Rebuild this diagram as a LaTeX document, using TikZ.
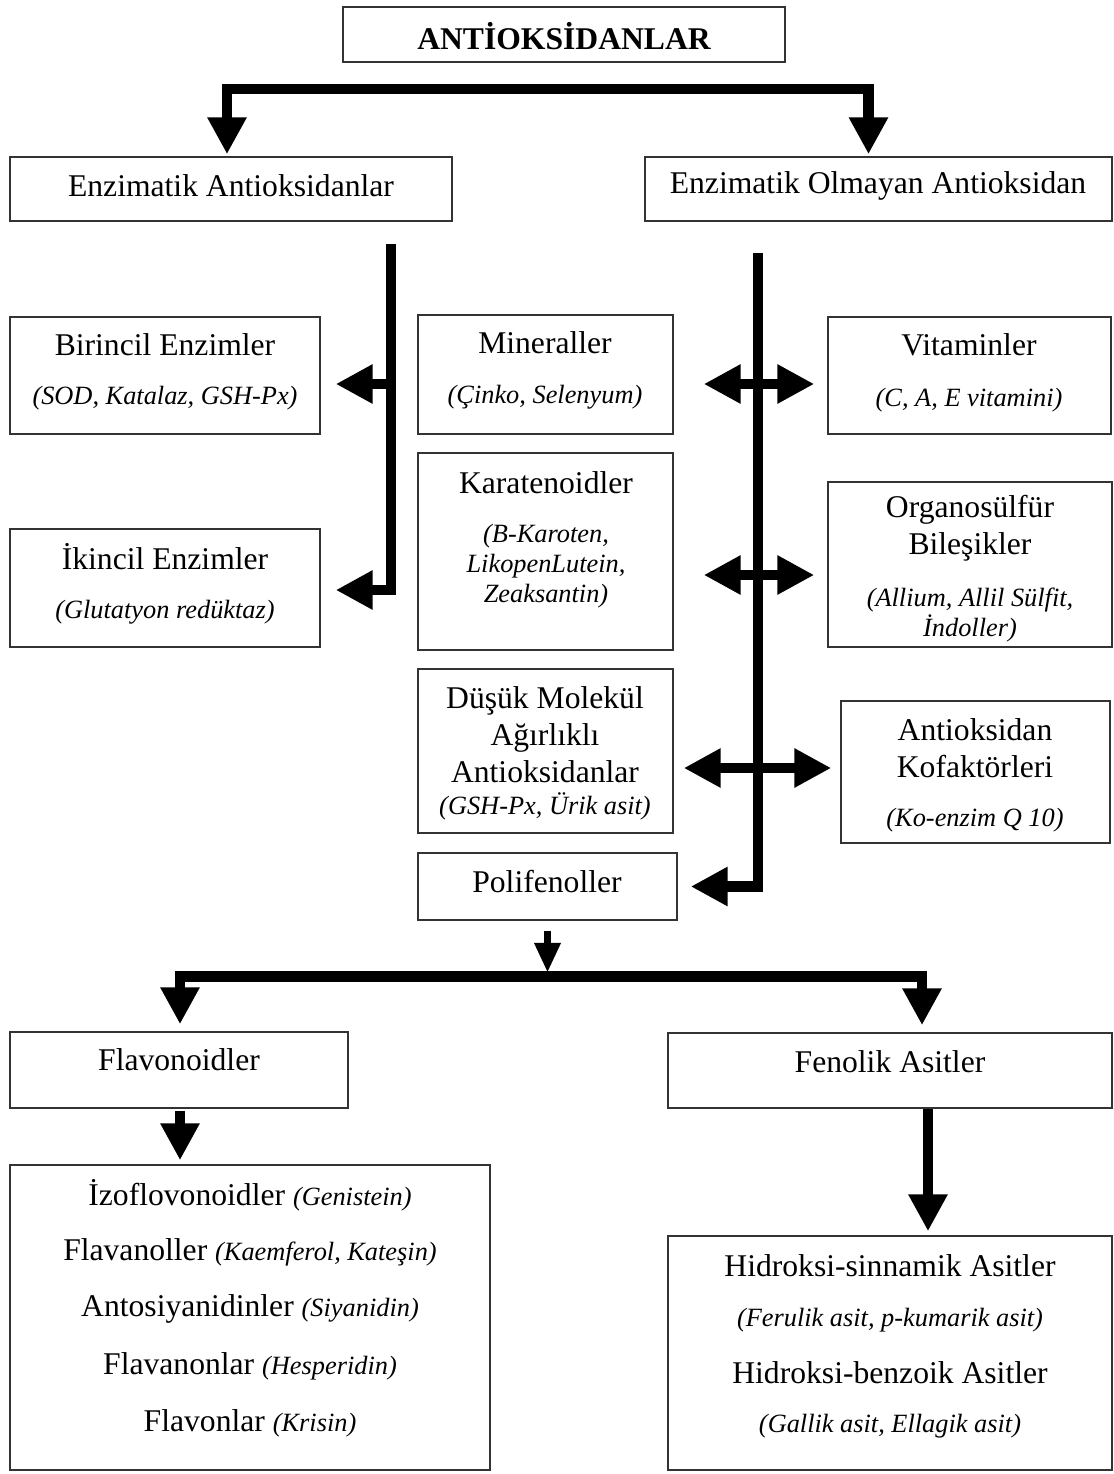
\documentclass[tikz,border=0pt]{standalone}
\usepackage{fontspec}
\setmainfont{Liberation Serif}
\usetikzlibrary{arrows.meta,calc}

\tikzset{
  box/.style={draw=black!80, line width=0.9pt, inner sep=0pt},
  hd/.style={font=\fontsize{18}{21}\selectfont, align=center, inner sep=0pt},
  sb/.style={font=\fontsize{15}{17}\selectfont\itshape, align=center, inner sep=0pt},
  fat/.style={line width=6pt, -{Triangle[width=21pt,length=21pt]}},
  fatboth/.style={line width=6pt, {Triangle[width=21pt,length=21pt]}-{Triangle[width=21pt,length=21pt]}},
  slim/.style={line width=4.5pt, -{Triangle[width=14pt,length=17pt]}}
}
\newcommand{\subtxt}[1]{{\fontsize{15}{17}\selectfont\itshape #1}}

\begin{document}
\begin{tikzpicture}[x=0.02cm, y=-0.02cm]

    \useasboundingbox (0,0) rectangle (1114,1474);

    % Boxes
    \node[box, minimum width=8.84cm, minimum height=1.1cm]  (ttl) at (564,34.5) {};
    \node[box, minimum width=8.84cm, minimum height=1.28cm] (enz) at (231,189) {};
    \node[box, minimum width=9.34cm, minimum height=1.28cm] (non) at (878.5,189) {};
    \node[box, minimum width=6.2cm, minimum height=2.34cm]  (bir) at (165,375.5) {};
    \node[box, minimum width=6.2cm, minimum height=2.36cm]  (iki) at (165,588) {};
    \node[box, minimum width=5.1cm, minimum height=2.38cm]  (min) at (545.5,374.5) {};
    \node[box, minimum width=5.66cm, minimum height=2.34cm] (vit) at (969.5,375.5) {};
    \node[box, minimum width=5.1cm, minimum height=3.94cm]  (kar) at (545.5,551.5) {};
    \node[box, minimum width=5.68cm, minimum height=3.3cm]  (org) at (970,564.5) {};
    \node[box, minimum width=5.1cm, minimum height=3.28cm]  (dus) at (545.5,751) {};
    \node[box, minimum width=5.38cm, minimum height=2.84cm] (kof) at (975.5,772) {};
    \node[box, minimum width=5.18cm, minimum height=1.34cm] (pol) at (547.5,886.5) {};
    \node[box, minimum width=6.76cm, minimum height=1.52cm] (fla) at (179,1070) {};
    \node[box, minimum width=8.88cm, minimum height=1.5cm]  (fen) at (890,1070.5) {};
    \node[box, minimum width=9.6cm, minimum height=6.1cm]   (lst) at (250,1317.5) {};
    \node[box, minimum width=8.88cm, minimum height=4.68cm] (hid) at (890,1353) {};

    % Texts
    \node[hd, font=\fontsize{18}{21}\selectfont\bfseries] (ttltxt) at (564,36) {ANTİOKSİDANLAR};
    \node[hd] (enztxt) at (231,186) {Enzimatik Antioksidanlar};
    \node[hd] (nontxt) at (878,186) {Enzimatik Olmayan Antioksidan};

    \node[hd] (birtxt) at (165,345) {Birincil Enzimler};
    \node[sb] (birsub) at (165,398) {(SOD, Katalaz, GSH-Px)};
    \node[hd] (ikitxt) at (165,557) {İkincil Enzimler};
    \node[sb] (ikisub) at (165,612) {(Glutatyon redüktaz)};

    \node[hd] (mintxt) at (545,343) {Mineraller};
    \node[sb] (minsub) at (545,397) {(Çinko, Selenyum)};
    \node[hd] (kartxt) at (546,483) {Karatenoidler};
    \node[sb] (karsub) at (546,566) {(B-Karoten,\\LikopenLutein,\\Zeaksantin)};
    \node[hd] (dustxt) at (545,735) {Düşük Molekül\\Ağırlıklı\\Antioksidanlar};
    \node[sb] (dussub) at (545,806) {(GSH-Px, Ürik asit)};
    \node[hd] (poltxt) at (547,882) {Polifenoller};

    \node[hd] (vittxt) at (969,345) {Vitaminler};
    \node[sb] (vitsub) at (969,400) {(C, A, E vitamini)};
    \node[hd] (orgtxt) at (970,528) {Organosülfür\\Bileşikler};
    \node[sb] (orgsub) at (970,615) {(Allium, Allil Sülfit,\\İndoller)};
    \node[hd] (koftxt) at (975,748) {Antioksidan\\Kofaktörleri};
    \node[sb] (kofsub) at (975,820) {(Ko-enzim Q 10)};

    \node[hd] (flatxt) at (179,1060) {Flavonoidler};
    \node[hd] (fentxt) at (890,1062) {Fenolik Asitler};

    \node[hd] (lst1) at (250,1195) {İzoflovonoidler \subtxt{(Genistein)}};
    \node[hd] (lst2) at (250,1252) {Flavanoller \subtxt{(Kaemferol, Kateşin)}};
    \node[hd] (lst3) at (250,1309) {Antosiyanidinler \subtxt{(Siyanidin)}};
    \node[hd] (lst4) at (250,1366) {Flavanonlar \subtxt{(Hesperidin)}};
    \node[hd] (lst5) at (250,1423) {Flavonlar \subtxt{(Krisin)}};

    \node[hd] (hid1) at (890,1266) {Hidroksi-sinnamik Asitler};
    \node[sb] (hid2) at (890,1320) {(Ferulik asit, p-kumarik asit)};
    \node[hd] (hid3) at (890,1373) {Hidroksi-benzoik Asitler};
    \node[sb] (hid4) at (890,1426) {(Gallik asit, Ellagik asit)};

    % Top split
    \draw[fatboth] ($(enz.north)+(-4,-2)$) |- ($(non.north)+(-10,-67)$) -- ($(non.north)+(-10,-2)$);

    % Left trunk (enzymatic)
    \coordinate (lt) at ($(enz.south)+(160,22)$);
    \draw[fat] (lt) |- ($(iki.east)+(15,2)$);
    \draw[fat] ($(bir.east)+(71,8.5)$) -- ($(bir.east)+(15,8.5)$);

    % Right trunk (non-enzymatic)
    \coordinate (rt) at ($(non.south)+(-120.5,31)$);
    \draw[fat] (rt) |- ($(pol.east)+(13,0)$);
    \draw[fatboth] ($(min.east)+(30,9.5)$) -- ($(vit.west)+(-13,8.5)$);
    \draw[fatboth] ($(kar.east)+(30,23.5)$) -- ($(org.west)+(-13,10.5)$);
    \draw[fatboth] ($(dus.east)+(10,17)$) -- ($(kof.west)+(-9,-4)$);

    % Polyphenols split
    \draw[slim] ($(pol.south)+(0,10)$) -- ($(pol.south)+(0,52)$);
    \draw[fatboth] ($(fla.north)+(1,-7)$) |- ($(fen.north)+(32,-56)$) -- ($(fen.north)+(32,-7)$);

    % Lower arrows
    \draw[fat] ($(fla.south)+(1,2)$) -- ($(fla.south |- lst.north)+(1,-4)$);
    \draw[fat] ($(fen.south)+(38,0)$) -- ($(fen.south |- hid.north)+(38,-4)$);

\end{tikzpicture}
\end{document}
